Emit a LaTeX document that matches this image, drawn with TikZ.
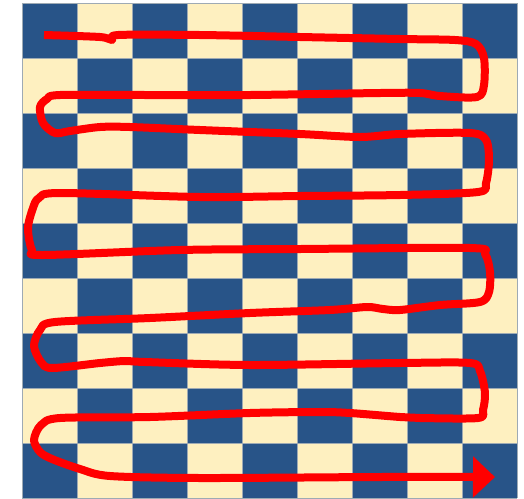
\documentclass[tikz,border=0pt]{standalone}
\usetikzlibrary{arrows.meta}
\definecolor{sqblue}{HTML}{285488}
\definecolor{sqcream}{HTML}{FEF0C0}
\definecolor{sqline}{HTML}{9EAAB4}

\begin{document}
\begin{tikzpicture}[x=0.2mm,y=-0.2mm,
  gridline/.style={sqline,line width=.5pt},
  tour/.style={draw=red,line width=1.6mm,line join=round,-{Triangle[length=4.4mm,width=8mm]}}]
\useasboundingbox (0,0) rectangle (524,498);
% board
\foreach \i in {0,...,8}
 \foreach \j in {0,...,8}{
  \pgfmathtruncatemacro\k{mod(\i+\j,2)}
  \ifnum\k=0 \def\cellcol{sqblue}\else\def\cellcol{sqcream}\fi
  \fill[\cellcol] (22+55*\i,3+55*\j) rectangle ++(55,55);
 }
\foreach \i in {0,...,9}{
 \draw[gridline] (22+55*\i,3) -- ++(0,495);
 \draw[gridline] (22,3+55*\i) -- ++(495,0);
}
% tour
\draw[tour] plot[smooth,tension=.5] coordinates {
 (44,35) (100,37) (112,40) (118,35) (200,35) (300,37) (400,39) (455,40)
 (476,44) (484,58) (484,85) (477,97) (440,96) (420,93) (380,93) (250,95)
 (150,95) (60,95) (47,99) (40,107) (43,123) (55,133) (70,131) (100,127)
 (130,127) (200,130) (300,134) (360,137) (400,134) (470,133) (486,140)
 (489,160) (486,183) (478,192) (400,195) (300,196) (200,197) (60,193)
 (39,198) (33,208) (28,228) (32,250) (43,255) (180,250) (300,249)
 (470,248) (485,254) (490,272) (489,292) (480,302) (440,305) (400,310)
 (383,309) (367,307) (330,310) (250,313) (150,318) (55,322) (40,330)
 (34,346) (41,362) (52,368) (100,363) (125,361) (145,362) (250,365)
 (400,363) (470,363) (480,371) (485,393) (483,410) (478,418) (420,418)
 (400,417) (350,413) (320,412) (250,413) (150,417) (60,418) (41,425)
 (34,440) (40,452) (52,459) (80,469) (110,476) (200,478) (380,477) (495,477)};
\end{tikzpicture}
\end{document}
